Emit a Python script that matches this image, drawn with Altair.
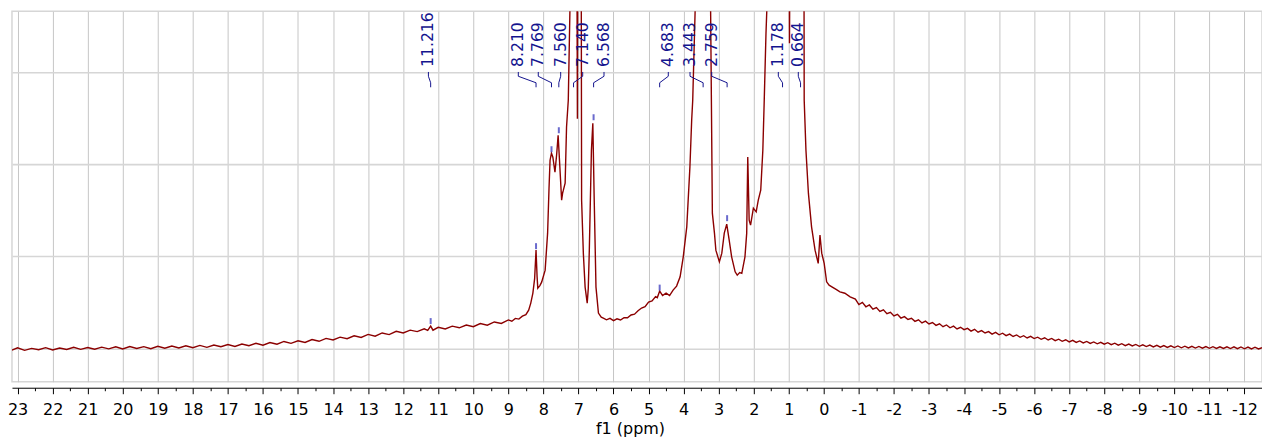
import altair as alt
import pandas as pd

# ---------------- spectrum (ppm, intensity in arbitrary units) ----------------
left_ppm = [23.16, 23.0, 22.8, 22.6, 22.4, 22.2, 22.0, 21.8, 21.6, 21.4, 21.2, 21.0,
            20.8, 20.6, 20.4, 20.2, 20.0, 19.8, 19.6, 19.4, 19.2, 19.0, 18.8, 18.6,
            18.4, 18.2, 18.0, 17.8, 17.6, 17.4, 17.2, 17.0, 16.8, 16.6, 16.4, 16.2,
            16.0, 15.8, 15.6, 15.4, 15.2, 15.0, 14.8, 14.6, 14.4, 14.2, 14.0, 13.8,
            13.6, 13.4, 13.2, 13.0, 12.8, 12.6, 12.4, 12.2, 12.0, 11.8, 11.6, 11.4,
            11.3, 11.216, 11.15, 11.0, 10.8, 10.6, 10.4, 10.2, 10.0, 9.8, 9.6, 9.4,
            9.2, 9.0, 8.9, 8.8, 8.7, 8.6, 8.5]
left_int = [-1.5, 0.8, -1.8, 0.2, -1.2, 0.9, -1.4, 0.6, -0.9, 1.3, -0.8, 1.1,
            -0.6, 1.4, -0.3, 1.8, -0.4, 2.0, 0.1, 1.9, -0.2, 2.3, 0.4, 2.6,
            0.6, 2.8, 0.9, 3.2, 1.2, 3.6, 1.8, 4.0, 2.1, 4.6, 2.9, 5.3,
            3.4, 6.0, 4.3, 7.1, 5.2, 7.8, 6.1, 9.0, 7.3, 10.2, 8.6, 11.4,
            9.9, 12.8, 11.1, 14.2, 12.4, 15.6, 14.0, 17.3, 15.6, 18.4, 17.0, 19.8,
            18.2, 22.5, 18.4, 21.3, 19.6, 22.4, 20.8, 23.6, 21.9, 25.0, 23.4, 26.6,
            25.1, 28.7, 27.4, 30.2, 29.5, 32.4, 34.0]

peak_ppm = [8.42, 8.36, 8.30, 8.25, 8.21, 8.18, 8.16, 8.10, 8.05, 7.95, 7.88, 7.84,
            7.81, 7.77, 7.73, 7.67, 7.62, 7.58, 7.53, 7.48, 7.45, 7.43, 7.38, 7.34,
            7.29, 7.24, 7.14, 7.03, 6.97, 6.91, 6.86, 6.81, 6.75, 6.72, 6.69, 6.63,
            6.59, 6.55, 6.50, 6.43, 6.35, 6.29, 6.2, 6.1, 6.0, 5.9, 5.8, 5.7,
            5.6, 5.5, 5.4, 5.3, 5.2, 5.1, 5.0, 4.9, 4.8, 4.75, 4.683, 4.6,
            4.5, 4.4, 4.3, 4.2, 4.1, 4.01, 3.91, 3.82, 3.77, 3.74, 3.67, 3.44,
            3.23, 3.18, 3.12, 3.08, 2.98, 2.91, 2.84, 2.77, 2.70, 2.63, 2.53, 2.47,
            2.40, 2.34, 2.25, 2.20, 2.17, 2.13, 2.09, 2.01, 1.93, 1.87, 1.80, 1.74,
            1.70, 1.65, 1.62, 1.178, 0.98, 0.664, 0.56, 0.51, 0.44, 0.35, 0.25, 0.16,
            0.11, 0.06, -0.01, -0.08, -0.15, -0.23, -0.35, -0.46, -0.6, -0.75]
peak_int = [38.5, 45.5, 55.5, 70.0, 98.5, 72.0, 60.5, 63.0, 66.5, 78.5, 115.5, 160.0,
            188.5, 195.5, 191.5, 176.5, 195.0, 213.5, 181.5, 148.5, 156.0, 158.5, 165.5, 221.5,
            248.5, 345.0, 1500.0, 230.0, 1500.0, 148.5, 95.0, 61.5, 45.5, 60.0, 98.5, 198.5,
            225.5, 148.5, 61.5, 35.5, 31.5, 30.5, 28.8, 30.2, 28.0, 29.8, 28.6, 31.0,
            30.8, 33.6, 34.4, 37.8, 40.6, 42.0, 46.5, 47.6, 52.0, 51.0, 57.5, 53.0,
            55.5, 53.0, 58.5, 62.5, 71.8, 91.8, 121.8, 181.8, 228.5, 248.5, 340.0, 2000.0,
            340.0, 135.5, 115.5, 98.5, 86.8, 95.5, 115.5, 124.5, 108.5, 91.8, 76.8, 73.5,
            76.0, 75.2, 91.8, 115.5, 191.8, 128.5, 123.5, 140.5, 136.8, 148.5, 158.5, 198.5,
            248.5, 315.5, 345.0, 2500.0, 305.5, 2500.0, 248.5, 198.5, 155.5, 121.8, 98.5, 85.2,
            113.5, 95.5, 85.2, 66.8, 63.5, 61.8, 59.2, 56.8, 55.4, 51.8]

tail_ppm = [-0.9, -1.0, -1.1, -1.2, -1.3, -1.4, -1.5, -1.6, -1.7, -1.8, -1.9, -2.0,
            -2.1, -2.2, -2.3, -2.4, -2.5, -2.6, -2.7, -2.8, -2.9, -3.0, -3.1, -3.2,
            -3.3, -3.4, -3.5, -3.6, -3.7, -3.8, -3.9, -4.0, -4.1, -4.2, -4.3, -4.4,
            -4.5, -4.6, -4.7, -4.8, -4.9, -5.0, -5.1, -5.2, -5.3, -5.4, -5.5, -5.6,
            -5.7, -5.8, -5.9, -6.0, -6.1, -6.2, -6.3, -6.4, -6.5, -6.6, -6.7, -6.8,
            -6.9, -7.0, -7.1, -7.2, -7.3, -7.4, -7.5, -7.6, -7.7, -7.8, -7.9, -8.0,
            -8.1, -8.2, -8.3, -8.4, -8.5, -8.6, -8.7, -8.8, -8.9, -9.0, -9.1, -9.2,
            -9.3, -9.4, -9.5, -9.6, -9.7, -9.8, -9.9, -10.0, -10.1, -10.2, -10.3, -10.4,
            -10.5, -10.6, -10.7, -10.8, -10.9, -11.0, -11.1, -11.2, -11.3, -11.4, -11.5, -11.6,
            -11.7, -11.8, -11.9, -12.0, -12.1, -12.2, -12.3, -12.4, -12.5]
tail_int = [49.5, 44.0, 46.2, 41.8, 43.6, 39.4, 41.0, 37.2, 38.8, 34.9, 36.3, 32.6,
            34.2, 30.5, 32.0, 29.1, 30.3, 27.2, 28.8, 25.6, 27.5, 24.6, 26.1, 23.2,
            24.8, 21.9, 23.6, 20.8, 22.4, 19.6, 21.3, 18.9, 20.2, 17.5, 19.3, 16.4,
            18.0, 15.6, 17.0, 14.5, 16.2, 13.8, 15.4, 12.9, 14.5, 12.1, 13.6, 11.3,
            12.9, 10.6, 12.2, 10.0, 11.4, 9.3, 10.8, 8.6, 10.1, 7.9, 9.4, 7.3,
            8.8, 6.7, 8.2, 6.1, 7.6, 5.6, 7.1, 5.2, 6.6, 4.8, 6.3, 4.4,
            5.9, 3.9, 5.4, 3.4, 4.9, 2.9, 4.5, 2.6, 4.1, 2.3, 3.8, 2.0,
            3.5, 1.7, 3.2, 1.4, 3.0, 1.2, 2.8, 1.0, 2.6, 0.8, 2.4, 0.6,
            2.2, 0.5, 2.1, 0.4, 2.0, 0.3, 1.9, 0.2, 1.8, 0.1, 1.8, 0.0,
            1.7, -0.1, 1.6, -0.2, 1.5, -0.3, 1.4, -0.4, 0.8]

# ---------------- peak picking ----------------
label_text = ["11.216", "8.210", "7.769", "7.560", "7.140", "6.568",
              "4.683", "3.443", "2.759", "1.178", "0.664"]
label_ppm = [11.28, 8.716, 8.146, 7.507, 6.879, 6.271,
             4.437, 3.817, 3.198, 1.298, 0.728]
peak_pos = [11.216, 8.210, 7.769, 7.560, 7.140, 6.568,
            4.683, 3.443, 2.759, 1.178, 0.664]

mark_ppm = [11.216, 8.210, 7.769, 7.560, 6.568, 4.683, 2.759]
mark_lo = [24.5, 99.5, 196.5, 215.5, 228.5, 58.0, 127.5]
mark_hi = [30.5, 105.5, 202.5, 221.5, 234.5, 64.0, 133.5]

grid_int = [0.0, 92.27, 184.55, 276.82]
x_domain = [23.16, -12.5]
y_domain = [-33.2, 337.5]

spec = pd.DataFrame({"ppm": left_ppm + peak_ppm + tail_ppm,
                     "v": left_int + peak_int + tail_int})

conn_rows = []
for t, lx, px in zip(label_text, label_ppm, peak_pos):
    for seq, (xx, yy) in enumerate([(lx, 276.8), (lx, 272.5), (px, 266.0), (px, 261.5)]):
        conn_rows.append({"label": t, "seq": seq, "ppm": xx, "v": yy})
conn = pd.DataFrame(conn_rows)
labels = pd.DataFrame({"label": label_text, "ppm": label_ppm, "v": [281.8] * len(label_text)})
marks = pd.DataFrame({"ppm": mark_ppm, "v": mark_lo, "hi": mark_hi})

xs = alt.Scale(domain=x_domain, nice=False, zero=False)
ys = alt.Scale(domain=y_domain, nice=False, zero=False)

tick_vals = [i / 2 for i in range(-24, 47)]
FONT = "DejaVu Sans"
NAVY = "#14148e"

x_axis = alt.Axis(
    values=tick_vals,
    labelExpr="datum.value % 1 === 0 ? '' + datum.value : ''",
    tickSize={"condition": {"test": "datum.value % 1 !== 0", "value": 3}, "value": 6},
    gridOpacity={"condition": {"test": "datum.value % 1 !== 0", "value": 0}, "value": 1},
    grid=True, gridColor="#c6c6c6", gridWidth=1,
    domainColor="#000000", domainWidth=1, tickColor="#000000", tickWidth=1,
    offset=6, labelFont=FONT, labelFontSize=16, labelColor="#000000",
    labelPadding=8, labelOverlap=False, labelFlush=False,
    title="f1 (ppm)", titleFont=FONT, titleFontSize=16, titleFontWeight="normal",
    titleColor="#000000", titlePadding=3, titleX=619,
)
y_axis = alt.Axis(values=grid_int, labels=False, ticks=False, domain=False,
                  grid=True, gridColor="#d6d6d6", gridWidth=1.6, title=None)

X = alt.X("ppm:Q", scale=xs, axis=x_axis, title="f1 (ppm)")
Y = alt.Y("v:Q", scale=ys, axis=y_axis, title=None)

line = alt.Chart(spec).mark_line(color="#8b0000", strokeWidth=1.4, clip=True).encode(
    x=X, y=Y,
)

pm = alt.Chart(marks).mark_rule(color="#5050c4", strokeWidth=2, opacity=0.85).encode(
    x=X, y=Y, y2="hi:Q",
)

cl = alt.Chart(conn).mark_line(color=NAVY, strokeWidth=1).encode(
    x=X, y=Y, detail="label:N", order="seq:Q",
)

tx = alt.Chart(labels).mark_text(angle=270, align="left", baseline="middle",
                                 font=FONT, fontSize=15.7, color=NAVY).encode(
    x=X, y=Y, text="label:N",
)

chart = alt.layer(line, pm, cl, tx).properties(
    width=1252, height=371,
    autosize=alt.AutoSizeParams(type="none"),
    padding={"left": 12, "top": 11, "right": 0, "bottom": 56},
    background="#ffffff",
).configure_view(stroke="#d6d6d6", strokeWidth=1.5)

chart.save("out.html", embed_options={"renderer": "svg", "actions": False})
